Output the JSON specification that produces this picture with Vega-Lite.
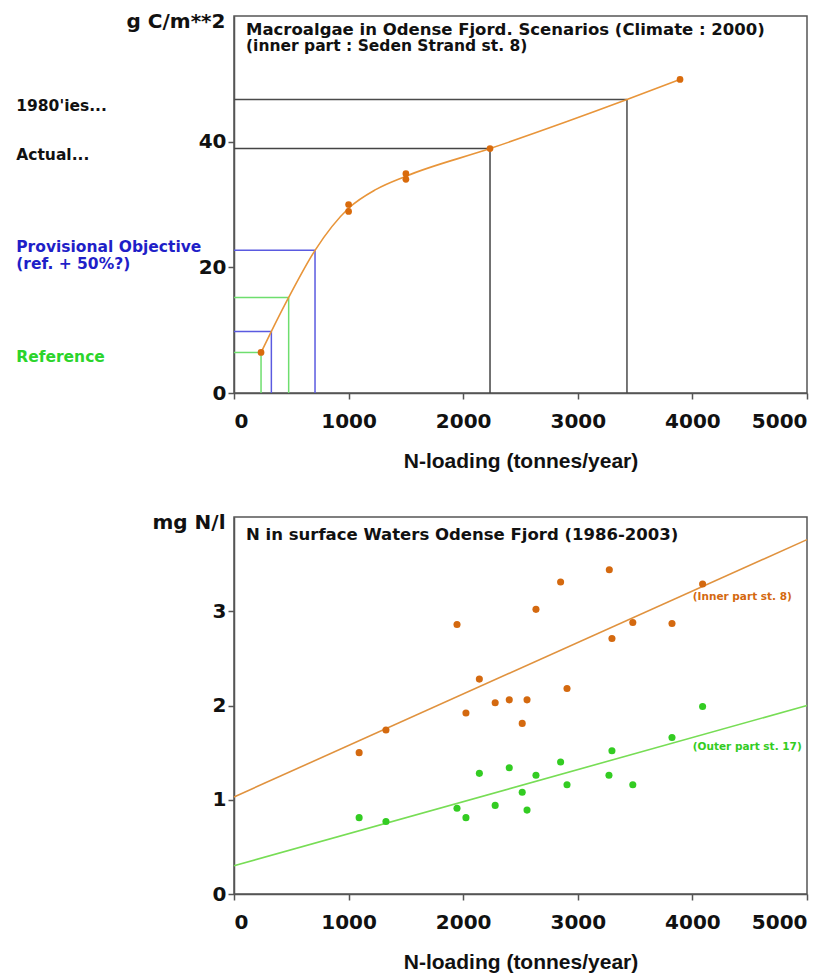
{
  "$schema": "https://vega.github.io/schema/vega-lite/v6.json",
  "padding": {"left": 15, "top": 10, "right": 0, "bottom": 0},
  "background": "white",
  "spacing": 38,
  "resolve": {"scale": {"fill": "independent", "stroke": "independent"}},
  "config": {
    "view": {"stroke": "#555", "strokeWidth": 1.5},
    "axis": {
      "labelFont": "DejaVu Sans", "labelFontWeight": "bold", "labelFontSize": 20, "labelColor": "#111",
      "domainColor": "#555", "domainWidth": 1.5, "tickColor": "#555", "tickWidth": 1.5, "tickSize": 6,
      "grid": false, "format": "d",
      "titleFont": "Liberation Sans", "titleFontWeight": "bold", "titleFontSize": 21, "titleColor": "#111"
    },
    "text": {"font": "DejaVu Sans", "fontWeight": "bold"}
  },
  "datasets": {
    "refs": [
      {"scenario": "1980'ies", "x1": 0, "x2": 3429, "y1": 46.7, "y2": 46.7},
      {"scenario": "1980'ies", "x1": 3429, "x2": 3429, "y1": 0, "y2": 46.7},
      {"scenario": "Actual", "x1": 0, "x2": 2234, "y1": 38.9, "y2": 38.9},
      {"scenario": "Actual", "x1": 2234, "x2": 2234, "y1": 0, "y2": 38.9},
      {"scenario": "Provisional", "x1": 0, "x2": 707, "y1": 22.7, "y2": 22.7},
      {"scenario": "Provisional", "x1": 707, "x2": 707, "y1": 0, "y2": 22.7},
      {"scenario": "Provisional", "x1": 0, "x2": 326, "y1": 9.8, "y2": 9.8},
      {"scenario": "Provisional", "x1": 326, "x2": 326, "y1": 0, "y2": 9.8},
      {"scenario": "Reference", "x1": 0, "x2": 477, "y1": 15.2, "y2": 15.2},
      {"scenario": "Reference", "x1": 477, "x2": 477, "y1": 0, "y2": 15.2},
      {"scenario": "Reference", "x1": 0, "x2": 236, "y1": 6.45, "y2": 6.45},
      {"scenario": "Reference", "x1": 236, "x2": 236, "y1": 0, "y2": 6.45}
    ],
    "curve": [
      {"load": 236, "biomass": 6.45},
      {"load": 326, "biomass": 9.8},
      {"load": 477, "biomass": 15.2},
      {"load": 707, "biomass": 22.7},
      {"load": 1000, "biomass": 29.4},
      {"load": 1240, "biomass": 32.4},
      {"load": 1500, "biomass": 34.5},
      {"load": 2234, "biomass": 38.9},
      {"load": 3429, "biomass": 46.7},
      {"load": 3892, "biomass": 49.9}
    ],
    "model": [
      {"load": 236, "biomass": 6.45},
      {"load": 1000, "biomass": 30.0},
      {"load": 1000, "biomass": 28.9},
      {"load": 1500, "biomass": 34.9},
      {"load": 1500, "biomass": 34.0},
      {"load": 2234, "biomass": 38.9},
      {"load": 3892, "biomass": 49.9}
    ],
    "topTitle": [
      {"load": 105, "biomass": 57.75, "label": "Macroalgae in Odense Fjord. Scenarios (Climate : 2000)"}
    ],
    "topSubtitle": [
      {"load": 105, "biomass": 55.3, "label": "(inner part : Seden Strand st. 8)"}
    ],
    "sideLabels": [
      {"load": -1900, "biomass": 45.6, "kind": "1980'ies", "label": "1980'ies..."},
      {"load": -1900, "biomass": 37.8, "kind": "Actual", "label": "Actual..."},
      {"load": -1900, "biomass": 23.2, "kind": "Provisional", "label": "Provisional Objective"},
      {"load": -1900, "biomass": 20.5, "kind": "Provisional", "label": "(ref. + 50%?)"},
      {"load": -1900, "biomass": 5.8, "kind": "Reference", "label": "Reference"}
    ],
    "obs": [
      {"load": 1092, "series": "inner", "conc": 1.50},
      {"load": 1326, "series": "inner", "conc": 1.74},
      {"load": 1946, "series": "inner", "conc": 2.86},
      {"load": 2024, "series": "inner", "conc": 1.92},
      {"load": 2141, "series": "inner", "conc": 2.28},
      {"load": 2279, "series": "inner", "conc": 2.03},
      {"load": 2402, "series": "inner", "conc": 2.06},
      {"load": 2515, "series": "inner", "conc": 1.81},
      {"load": 2557, "series": "inner", "conc": 2.06},
      {"load": 2635, "series": "inner", "conc": 3.02},
      {"load": 2850, "series": "inner", "conc": 3.31},
      {"load": 2906, "series": "inner", "conc": 2.18},
      {"load": 3275, "series": "inner", "conc": 3.44},
      {"load": 3298, "series": "inner", "conc": 2.71},
      {"load": 3480, "series": "inner", "conc": 2.88},
      {"load": 3822, "series": "inner", "conc": 2.87},
      {"load": 4089, "series": "inner", "conc": 3.29},
      {"load": 1092, "series": "outer", "conc": 0.81},
      {"load": 1326, "series": "outer", "conc": 0.77},
      {"load": 1946, "series": "outer", "conc": 0.91},
      {"load": 2024, "series": "outer", "conc": 0.81},
      {"load": 2141, "series": "outer", "conc": 1.28},
      {"load": 2279, "series": "outer", "conc": 0.94},
      {"load": 2402, "series": "outer", "conc": 1.34},
      {"load": 2515, "series": "outer", "conc": 1.08},
      {"load": 2557, "series": "outer", "conc": 0.89},
      {"load": 2635, "series": "outer", "conc": 1.26},
      {"load": 2850, "series": "outer", "conc": 1.40},
      {"load": 2906, "series": "outer", "conc": 1.16},
      {"load": 3272, "series": "outer", "conc": 1.26},
      {"load": 3298, "series": "outer", "conc": 1.52},
      {"load": 3480, "series": "outer", "conc": 1.16},
      {"load": 3822, "series": "outer", "conc": 1.66},
      {"load": 4089, "series": "outer", "conc": 1.99}
    ],
    "fit": [
      {"load": 0, "series": "inner", "conc": 1.03},
      {"load": 5000, "series": "inner", "conc": 3.76},
      {"load": 0, "series": "outer", "conc": 0.30},
      {"load": 5000, "series": "outer", "conc": 2.0}
    ],
    "seriesLabels": [
      {"load": 4003, "series": "inner", "conc": 3.15, "label": "(Inner part st. 8)"},
      {"load": 4003, "series": "outer", "conc": 1.556, "label": "(Outer part st. 17)"}
    ],
    "bottomTitle": [
      {"load": 105, "conc": 3.81, "label": "N in surface Waters Odense Fjord (1986-2003)"}
    ]
  },
  "vconcat": [
    {
      "width": 573,
      "height": 377,
      "layer": [
        {
          "data": {"name": "refs"},
          "mark": {"type": "rule", "strokeWidth": 1.5},
          "encoding": {
            "x": {"field": "x1", "type": "quantitative",
              "scale": {"domain": [0, 5000], "nice": false},
              "axis": {"values": [0, 1000, 2000, 3000, 4000, 5000], "title": "N-loading (tonnes/year)", "labelPadding": 12.5, "titlePadding": 19}},
            "x2": {"field": "x2"},
            "y": {"field": "y1", "type": "quantitative",
              "scale": {"domain": [0, 60], "nice": false},
              "axis": {"values": [0, 20, 40], "title": "g C/m**2", "titleAngle": 0, "titleAlign": "right", "titleBaseline": "middle", "titleX": -9, "titleY": 5, "titleFont": "DejaVu Sans", "titleFontSize": 20, "labelPadding": 2}},
            "y2": {"field": "y2"},
            "stroke": {"field": "scenario", "type": "nominal",
              "scale": {"domain": ["1980'ies", "Actual", "Provisional", "Reference"], "range": ["#4a4a4a", "#444444", "#5a5ae0", "#6ede6e"]},
              "legend": null}
          }
        },
        {
          "data": {"name": "curve"},
          "mark": {"type": "line", "interpolate": "monotone", "color": "#e8953a", "strokeWidth": 1.6},
          "encoding": {
            "x": {"field": "load", "type": "quantitative"},
            "y": {"field": "biomass", "type": "quantitative"}
          }
        },
        {
          "data": {"name": "model"},
          "mark": {"type": "point", "filled": true, "opacity": 1, "color": "#d96b0c", "size": 45},
          "encoding": {
            "x": {"field": "load", "type": "quantitative"},
            "y": {"field": "biomass", "type": "quantitative"}
          }
        },
        {
          "data": {"name": "topTitle"},
          "mark": {"type": "text", "align": "left", "baseline": "middle", "fontSize": 16.5, "color": "#111"},
          "encoding": {
            "x": {"field": "load", "type": "quantitative"},
            "y": {"field": "biomass", "type": "quantitative"},
            "text": {"field": "label"}
          }
        },
        {
          "data": {"name": "topSubtitle"},
          "mark": {"type": "text", "align": "left", "baseline": "middle", "fontSize": 15.5, "color": "#111"},
          "encoding": {
            "x": {"field": "load", "type": "quantitative"},
            "y": {"field": "biomass", "type": "quantitative"},
            "text": {"field": "label"}
          }
        },
        {
          "data": {"name": "sideLabels"},
          "mark": {"type": "text", "align": "left", "baseline": "middle", "fontSize": 15.5},
          "encoding": {
            "x": {"field": "load", "type": "quantitative"},
            "y": {"field": "biomass", "type": "quantitative"},
            "text": {"field": "label"},
            "fill": {"field": "kind", "type": "nominal",
              "scale": {"domain": ["1980'ies", "Actual", "Provisional", "Reference"], "range": ["#111111", "#111111", "#1f1fc8", "#2bd42b"]},
              "legend": null}
          }
        }
      ]
    },
    {
      "width": 573,
      "height": 377,
      "layer": [
        {
          "data": {"name": "fit"},
          "mark": {"type": "line", "strokeWidth": 1.6},
          "encoding": {
            "x": {"field": "load", "type": "quantitative",
              "scale": {"domain": [0, 5000], "nice": false},
              "axis": {"values": [0, 1000, 2000, 3000, 4000, 5000], "title": "N-loading (tonnes/year)", "labelPadding": 12.5, "titlePadding": 19}},
            "y": {"field": "conc", "type": "quantitative",
              "scale": {"domain": [0, 4], "nice": false},
              "axis": {"values": [0, 1, 2, 3], "title": "mg N/l", "titleAngle": 0, "titleAlign": "right", "titleBaseline": "middle", "titleX": -9, "titleY": 5, "titleFont": "DejaVu Sans", "titleFontSize": 20, "labelPadding": 2}},
            "stroke": {"field": "series", "type": "nominal",
              "scale": {"domain": ["inner", "outer"], "range": ["#e0923e", "#77dd55"]},
              "legend": null}
          }
        },
        {
          "data": {"name": "obs"},
          "mark": {"type": "point", "filled": true, "opacity": 1, "size": 50, "strokeWidth": 0},
          "encoding": {
            "x": {"field": "load", "type": "quantitative"},
            "y": {"field": "conc", "type": "quantitative"},
            "fill": {"field": "series", "type": "nominal",
              "scale": {"domain": ["inner", "outer"], "range": ["#d4690f", "#33cc22"]},
              "legend": null}
          }
        },
        {
          "data": {"name": "seriesLabels"},
          "mark": {"type": "text", "align": "left", "baseline": "middle", "fontSize": 10.5},
          "encoding": {
            "x": {"field": "load", "type": "quantitative"},
            "y": {"field": "conc", "type": "quantitative"},
            "text": {"field": "label"},
            "fill": {"field": "series", "type": "nominal", "legend": null}
          }
        },
        {
          "data": {"name": "bottomTitle"},
          "mark": {"type": "text", "align": "left", "baseline": "middle", "fontSize": 16.5, "color": "#111"},
          "encoding": {
            "x": {"field": "load", "type": "quantitative"},
            "y": {"field": "conc", "type": "quantitative"},
            "text": {"field": "label"}
          }
        }
      ]
    }
  ]
}
